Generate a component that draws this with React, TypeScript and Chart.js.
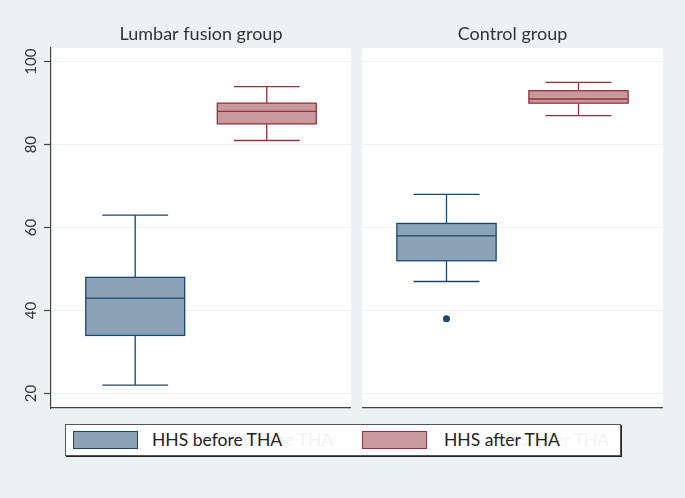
import React, { useEffect, useRef } from "react";
import { Chart, registerables } from "chart.js";

Chart.register(...registerables);

// ---------- data ----------
const groups = ["Lumbar fusion group", "Control group"];
const seriesNames = ["HHS before THA", "HHS after THA"];
const positions = [1, 2];
const yTicks = [20, 40, 60, 80, 100];
const yMin = 16.5;
const yMax = 103.3;
const xMin = 0.36;
const xMax = 2.64;

// Lumbar fusion group: [before, after]
const lumbarLow = [22, 81];
const lumbarQ1 = [34, 85];
const lumbarMedian = [43, 88];
const lumbarQ3 = [48, 90];
const lumbarHigh = [63, 94];
const lumbarOutliers: number[][] = [[], []];

// Control group: [before, after]
const controlLow = [47, 87];
const controlQ1 = [52, 90];
const controlMedian = [58, 91];
const controlQ3 = [61, 93];
const controlHigh = [68, 95];
const controlOutliers: number[][] = [[38], []];

// ---------- styles ----------
const BG = "#eaf2f3";
const fills = ["#8ca3b7", "#c89a9d"];
const strokes = ["#1a476f", "#90353b"];
const FONT = "Lato, 'Open Sans', sans-serif";
const boxHalf = 0.376;
const capHalf = 0.25;

type Stats = { low: number[]; q1: number[]; med: number[]; q3: number[]; high: number[] };

const bgPlugin = {
  id: "plotBg",
  beforeDraw(chart: any) {
    const { ctx, chartArea } = chart;
    ctx.save();
    ctx.fillStyle = "#ffffff";
    ctx.fillRect(chartArea.left, chartArea.top, chartArea.right - chartArea.left, chartArea.bottom - chartArea.top);
    ctx.restore();
  },
};

const boxPlugin = {
  id: "boxplot",
  beforeDatasetsDraw(chart: any, _args: any, opts: any) {
    const s: Stats = opts.stats;
    if (!s) return;
    const { ctx } = chart;
    const x = chart.scales.x;
    const y = chart.scales.y;
    ctx.save();
    positions.forEach((p, i) => {
      const cx = x.getPixelForValue(p);
      const hw = x.getPixelForValue(p + boxHalf) - cx;
      const cw = x.getPixelForValue(p + capHalf) - cx;
      const yLow = y.getPixelForValue(s.low[i]);
      const yQ1 = y.getPixelForValue(s.q1[i]);
      const yMed = y.getPixelForValue(s.med[i]);
      const yQ3 = y.getPixelForValue(s.q3[i]);
      const yHigh = y.getPixelForValue(s.high[i]);
      ctx.strokeStyle = strokes[i];
      ctx.lineWidth = 1.3;
      ctx.beginPath();
      ctx.moveTo(cx, yQ3);
      ctx.lineTo(cx, yHigh);
      ctx.moveTo(cx - cw, yHigh);
      ctx.lineTo(cx + cw, yHigh);
      ctx.moveTo(cx, yQ1);
      ctx.lineTo(cx, yLow);
      ctx.moveTo(cx - cw, yLow);
      ctx.lineTo(cx + cw, yLow);
      ctx.stroke();
      ctx.fillStyle = fills[i];
      ctx.fillRect(cx - hw, yQ3, hw * 2, yQ1 - yQ3);
      ctx.strokeRect(cx - hw, yQ3, hw * 2, yQ1 - yQ3);
      ctx.beginPath();
      ctx.moveTo(cx - hw, yMed);
      ctx.lineTo(cx + hw, yMed);
      ctx.stroke();
    });
    ctx.restore();
  },
};

function makeConfig(title: string, stats: Stats, outliers: number[][], showAxis: boolean): any {
  return {
    type: "scatter",
    data: {
      datasets: outliers.map((vals, i) => ({
        label: seriesNames[i],
        data: vals.map((v) => ({ x: positions[i], y: v })),
        pointRadius: 3.5,
        pointBackgroundColor: strokes[i],
        pointBorderColor: strokes[i],
        pointBorderWidth: 0,
      })),
    },
    plugins: [bgPlugin, boxPlugin],
    options: {
      responsive: false,
      animation: false,
      layout: { autoPadding: false, padding: { left: 0, right: 0, top: 0, bottom: 1 } },
      plugins: {
        legend: { display: false },
        tooltip: { enabled: false },
        title: {
          display: true,
          text: title,
          fullSize: false,
          color: "#333333",
          font: { family: FONT, size: 18, weight: "normal", lineHeight: 1.2 },
          padding: { top: 23, bottom: 3.4 },
        },
        boxplot: { stats },
      },
      scales: {
        x: {
          type: "linear",
          min: xMin,
          max: xMax,
          ticks: { display: false },
          grid: { display: false },
          border: { display: true, color: "#444444", width: 1.2 },
          afterFit: (s: any) => {
            s.height = 0;
            s.paddingLeft = 0;
            s.paddingRight = 0;
          },
        },
        y: {
          type: "linear",
          min: yMin,
          max: yMax,
          afterBuildTicks: (s: any) => {
            s.ticks = yTicks.map((v) => ({ value: v }));
          },
          ticks: {
            display: showAxis,
            minRotation: 90,
            maxRotation: 90,
            crossAlign: "center",
            padding: 0,
            color: "#333333",
            font: { family: FONT, size: 15 },
          },
          grid: {
            color: BG,
            lineWidth: 1,
            drawTicks: showAxis,
            tickLength: 7,
            tickColor: "#444444",
            tickWidth: 1.2,
          },
          border: { display: showAxis, color: "#444444", width: 1.2 },
          afterFit: (s: any) => {
            s.width = showAxis ? 51 : 0;
            s.paddingTop = 0;
            s.paddingBottom = 0;
          },
        },
      },
    },
  };
}

function Panel(props: { left: number; width: number; title: string; stats: Stats; outliers: number[][]; showAxis: boolean }) {
  const ref = useRef<HTMLCanvasElement>(null);
  useEffect(() => {
    if (!ref.current) return;
    const chart = new Chart(ref.current, makeConfig(props.title, props.stats, props.outliers, props.showAxis));
    return () => chart.destroy();
  }, []);
  return (
    <canvas
      ref={ref}
      width={props.width}
      height={409}
      style={{ position: "absolute", left: props.left, top: 0, width: props.width, height: 409 }}
    />
  );
}

export default function App() {
  const lumbar: Stats = { low: lumbarLow, q1: lumbarQ1, med: lumbarMedian, q3: lumbarQ3, high: lumbarHigh };
  const control: Stats = { low: controlLow, q1: controlQ1, med: controlMedian, q3: controlQ3, high: controlHigh };
  const keyLefts = [7, 296];
  const textLefts = [86, 378];
  const ghostOffsets = [51, 49];
  return (
    <div
      style={{
        position: "fixed",
        left: 0,
        top: 0,
        width: 685,
        height: 498,
        background: BG,
        fontFamily: FONT,
        overflow: "hidden",
      }}
    >
      <Panel left={0} width={351} title={groups[0]} stats={lumbar} outliers={lumbarOutliers} showAxis={true} />
      <Panel left={362} width={301} title={groups[1]} stats={control} outliers={controlOutliers} showAxis={false} />
      <div
        style={{
          position: "absolute",
          left: 65,
          top: 424,
          width: 556,
          height: 32,
          boxSizing: "border-box",
          background: "#ffffff",
          border: "1px solid #555555",
          boxShadow: "1px 1px 0 #222222",
        }}
      >
        {seriesNames.map((name, i) => (
          <React.Fragment key={name}>
            <div
              style={{
                position: "absolute",
                left: keyLefts[i],
                top: 6,
                width: 65,
                height: 18,
                boxSizing: "border-box",
                background: fills[i],
                border: `1.5px solid ${strokes[i]}`,
              }}
            />
            <div
              style={{
                position: "absolute",
                left: textLefts[i] + ghostOffsets[i],
                top: 0,
                height: 30,
                lineHeight: "30px",
                fontSize: 17.5,
                color: "#f3f3f3",
                whiteSpace: "nowrap",
              }}
            >
              {name}
            </div>
            <div
              style={{
                position: "absolute",
                left: textLefts[i],
                top: 0,
                height: 30,
                lineHeight: "30px",
                fontSize: 17.5,
                color: "#222222",
                whiteSpace: "nowrap",
              }}
            >
              {name}
            </div>
          </React.Fragment>
        ))}
      </div>
    </div>
  );
}
